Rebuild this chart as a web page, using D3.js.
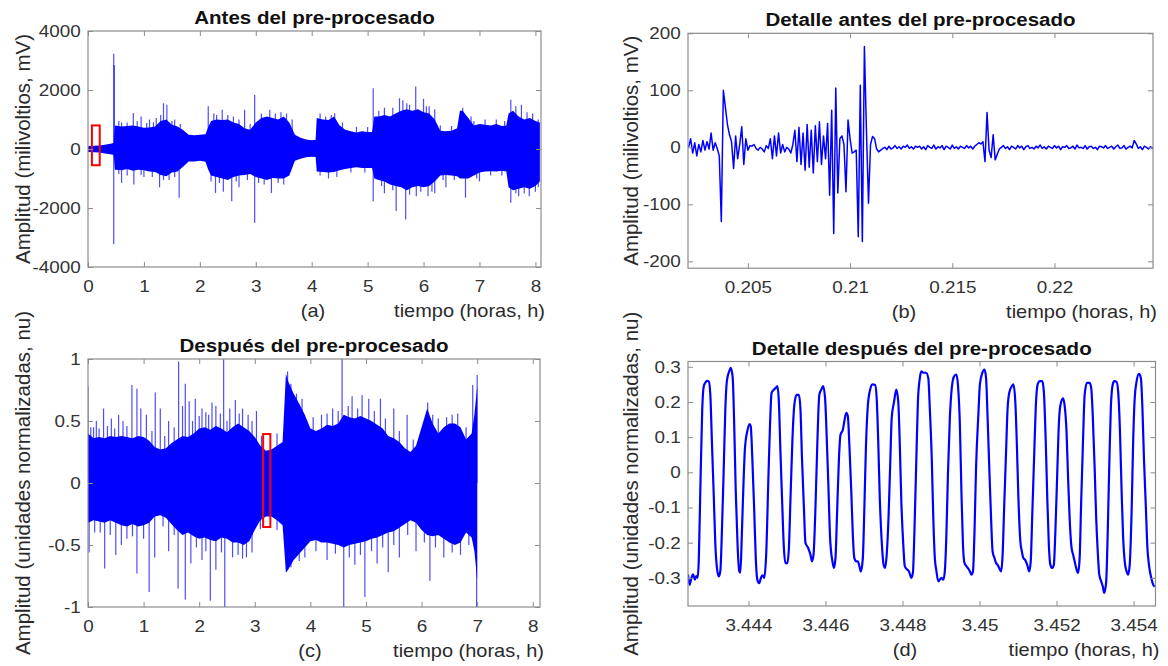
<!DOCTYPE html>
<html>
<head>
<meta charset="utf-8">
<title>Antes y después del pre-procesado</title>
<script src="https://d3js.org/d3.v7.min.js"></script>
<style>
  body { margin: 0; background: #fff; }
  svg text { font-family: "Liberation Sans", Arial, sans-serif; }
</style>
</head>
<body>
<div id="chart"></div>
<script>
// ---------- (a) raw signal, read as envelope + isolated spikes ----------
var aTime  = [0, 0.1, 0.2, 0.3, 0.4, 0.46, 0.48, 0.6, 0.7, 0.8, 0.9, 1.0, 1.1, 1.2, 1.3, 1.4, 1.5, 1.6, 1.7, 1.8, 1.9, 2.0, 2.1, 2.15,
              2.2, 2.3, 2.4, 2.5, 2.6, 2.7, 2.8, 2.9, 3.0, 3.1, 3.2, 3.3, 3.4, 3.5, 3.6, 3.7, 3.8, 3.9, 4.0, 4.07, 4.09,
              4.2, 4.3, 4.4, 4.5, 4.6, 4.7, 4.8, 4.9, 5.0, 5.08, 5.12, 5.2, 5.3, 5.4, 5.5, 5.6, 5.7, 5.8, 5.9, 6.0, 6.1,
              6.2, 6.3, 6.4, 6.5, 6.6, 6.65, 6.7, 6.8, 6.9, 7.0, 7.1, 7.2, 7.3, 7.4, 7.48, 7.52, 7.6, 7.7, 7.8, 7.9, 8.0, 8.08];
var aUpper = [100, 110, 120, 140, 180, 200, 800, 760, 780, 800, 760, 720, 730, 760, 950, 1000, 820, 760, 640, 480, 470, 480, 500, 750,
              950, 1000, 980, 1000, 900, 850, 700, 650, 900, 1050, 1100, 1050, 1000, 1100, 900, 480, 380, 320, 300, 310, 1050,
              1000, 980, 1100, 800, 650, 600, 560, 600, 580, 580, 1100, 1100, 1150, 1100, 1200, 1300, 1350, 1300, 1350, 1250, 1200,
              1000, 620, 600, 620, 700, 1300, 1300, 1050, 800, 850, 820, 800, 850, 780, 800, 1200, 1300, 1100, 1000, 1050, 950, 900];
var aLower = [-100, -110, -120, -150, -180, -200, -700, -720, -680, -740, -700, -720, -760, -780, -880, -920, -800, -760, -600, -420, -420, -400, -430, -700,
              -900, -950, -1000, -1050, -950, -900, -880, -850, -950, -1000, -1050, -980, -1000, -1000, -900, -400, -330, -280, -260, -270, -760,
              -780, -800, -780, -720, -680, -640, -620, -640, -640, -640, -1000, -1050, -1100, -1200, -1250, -1300, -1400, -1300, -1250, -1300, -1250,
              -1100, -900, -880, -900, -920, -1000, -1000, -1000, -900, -800, -760, -750, -760, -740, -760, -1300, -1400, -1350, -1300, -1350, -1250, -1100];
var aSpikes = [[0.46, 3230], [0.47, 2850], [0.6, 900], [0.81, 1220], [0.95, 1100], [1.1, 1000], [1.22, 1050], [1.35, 1550], [1.41, 1500],
               [1.55, 1000], [2.15, 1450], [2.25, 1200], [2.4, 1330], [2.6, 1100], [2.8, 1330], [2.98, 1840], [3.25, 1330], [3.45, 1250],
               [3.55, 1200], [4.25, 1100], [4.41, 1215], [5.1, 2060], [5.3, 1400], [5.57, 1720], [5.63, 1650], [5.75, 1500], [5.86, 2120],
               [6.0, 1700], [6.1, 1450], [6.2, 1350], [6.7, 1400], [6.85, 1100], [7.56, 1670], [7.65, 1450], [7.75, 1500], [7.95, 1200], [8.05, 1000],
               [0.55, 950], [0.7, 900], [0.88, 950], [1.05, 880], [1.17, 900], [1.3, 1150], [1.5, 950], [1.65, 850], [2.3, 1150], [2.5, 1150],
               [2.7, 1000], [2.9, 850], [3.1, 1200], [3.35, 1200], [3.65, 1000], [4.15, 1200], [4.35, 1150], [4.55, 900], [4.8, 750], [5.0, 750],
               [5.2, 1300], [5.45, 1400], [5.7, 1550], [6.05, 1450], [6.3, 800], [6.5, 780], [6.9, 950], [7.1, 1000], [7.3, 1000], [7.45, 950], [7.85, 1250],
               [0.46, -3230], [0.6, -1150], [0.82, -1200], [1.0, -950], [1.28, -1300], [1.45, -1050], [1.63, -1650], [2.28, -1490],
               [2.42, -1450], [2.57, -1770], [2.7, -1300], [2.98, -2500], [3.28, -1490], [3.5, -1200], [4.3, -1000], [5.1, -1770],
               [5.3, -1500], [5.51, -2100], [5.68, -2390], [5.87, -1600], [6.08, -1600], [6.2, -1500], [6.4, -1300], [6.75, -1650],
               [7.0, -1100], [7.56, -1825], [7.7, -1600], [7.89, -1600], [8.0, -1450],
               [0.55, -850], [0.7, -900], [0.95, -880], [1.15, -950], [1.35, -1050], [1.55, -950], [2.2, -1100], [2.35, -1150], [2.65, -1100],
               [2.85, -1050], [3.05, -1150], [3.15, -1200], [3.4, -1150], [4.15, -900], [4.45, -950], [4.7, -800], [4.95, -800], [5.25, -1250],
               [5.45, -1400], [5.75, -1550], [5.95, -1450], [6.15, -1450], [6.35, -1050], [6.55, -1050], [6.95, -1000], [7.2, -900], [7.4, -900],
               [7.65, -1500], [7.8, -1500], [8.05, -1300]];
var aBox = [0.07, 0.21, -550, 800];

// ---------- (b) detail of raw signal, sampled every 0.0001 h ----------
var bStart = 0.2021, bStep = 0.0001;
var bValues = [0, 15, -10, 8, -15, 5, -8, 12, -5, 10, -3, 25, -5, 8, -2, -15, -130, 100, 70, 40,
               22, 10, -37, 20, -20, 5, 36, -30, 15, -5, 3, 2, 5, -2, -5, 0, -3, -8, 3, -2,
               15, -20, 20, -15, 25, -10, 5, -8, 0, -3, -10, 5, 30, -25, 35, -30, 25, -40, 40, -35,
               30, -45, 38, -25, 45, -30, 20, -20, 42, -84, 65, -151, 104, -80, 15, 20, 5, -78, 48, 15,
               -10, -8, -5, -157, 109, -165, 177, 30, -98, 5, 19, 15, -3, -8, -5, -2, 0, -4, 2, -3,
               -1, 3, -2, 1, -3, 2, 0, 4, -2, 1, -3, 2, 0,
               2, -3, 1, -4, 3, 0, -2, 4, -3, 1, -1, 3, -4, 2, 0, -3, 4, -2, 1, -3, 2, 0, -2, 3, -1, 2, -3,
               2, 5, 8, 6, 10, -25, 61, -5, -18, 22, -22, -12, -3, 0,
               3, -2, 1, -4, 2, 0, -3, 3, -1, 2, -4, 1, 3, -2, 0, -3, 2, -1, 4, -2, 1, -3, 2, 0, -2, 3,
               -1, 2, -4, 1, 0, 3, -2, -1, 2, -3, 4, -1, 0, -2, 3, -3, 1, 2, -2, 0, -4, 2, 1, -1, 3, -2,
               0, 2, -3, 1, 4, -2, -1, 3, -3, 0, 2, -1, 12, 6, -2, 1, -4, 2, 0, -3, 1, -2, 3, -1];

// ---------- (c) pre-processed signal, envelope + spikes ----------
var cTime  = [0, 0.1, 0.2, 0.3, 0.4, 0.5, 0.6, 0.7, 0.8, 0.9, 1.0, 1.1, 1.2, 1.3, 1.4, 1.5, 1.6, 1.7, 1.8, 1.9,
              2.0, 2.1, 2.2, 2.3, 2.4, 2.5, 2.6, 2.7, 2.8, 2.9, 3.0, 3.1, 3.2, 3.3, 3.4, 3.5, 3.56,
              3.6, 3.7, 3.8, 3.9, 4.0, 4.1, 4.2, 4.3, 4.4, 4.5, 4.6, 4.7, 4.8, 4.9, 5.0, 5.1, 5.2, 5.3, 5.4,
              5.5, 5.6, 5.7, 5.8, 5.9, 6.0, 6.1, 6.2, 6.3, 6.4, 6.5, 6.6, 6.7, 6.8, 6.9, 6.95, 7.0];
var cUpper = [0.40, 0.36, 0.37, 0.36, 0.38, 0.37, 0.38, 0.37, 0.36, 0.38, 0.37, 0.34, 0.29, 0.27, 0.28, 0.32, 0.35, 0.38, 0.37, 0.40,
              0.44, 0.45, 0.43, 0.46, 0.44, 0.41, 0.45, 0.48, 0.45, 0.42, 0.37, 0.30, 0.26, 0.27, 0.30, 0.33, 0.88,
              0.82, 0.72, 0.64, 0.55, 0.44, 0.42, 0.44, 0.47, 0.46, 0.48, 0.55, 0.53, 0.52, 0.54, 0.52, 0.50, 0.47, 0.44, 0.38,
              0.36, 0.33, 0.28, 0.25, 0.30, 0.45, 0.60, 0.48, 0.40, 0.45, 0.48, 0.48, 0.45, 0.35, 0.40, 0.55, 0.78];
var cLower = [-0.32, -0.30, -0.31, -0.32, -0.30, -0.32, -0.34, -0.35, -0.33, -0.35, -0.34, -0.32, -0.27, -0.26, -0.28, -0.33, -0.38, -0.42, -0.40, -0.43,
              -0.45, -0.44, -0.46, -0.47, -0.44, -0.45, -0.48, -0.48, -0.50, -0.47, -0.38, -0.30, -0.27, -0.27, -0.30, -0.34, -0.72,
              -0.70, -0.62, -0.57, -0.52, -0.47, -0.46, -0.48, -0.48, -0.49, -0.50, -0.52, -0.50, -0.49, -0.48, -0.47, -0.45, -0.44, -0.42, -0.40,
              -0.39, -0.36, -0.33, -0.30, -0.32, -0.38, -0.42, -0.43, -0.42, -0.45, -0.48, -0.50, -0.48, -0.40, -0.44, -0.55, -0.78];
var cSpikes = [[0.0, 0.78], [0.05, 0.45], [0.15, 0.5], [0.28, 0.6], [0.42, 0.52], [0.55, 0.55], [0.63, 0.5], [0.79, 0.79], [0.88, 0.76],
               [0.95, 0.6], [1.05, 0.55], [1.21, 0.73], [1.3, 0.6], [1.45, 0.5], [1.63, 0.98], [1.7, 0.62], [1.75, 0.8], [1.82, 0.66],
               [1.93, 0.68], [2.05, 0.6], [2.12, 0.57], [2.23, 0.65], [2.3, 0.62], [2.44, 1.0], [2.55, 0.6], [2.65, 0.67], [2.78, 0.6],
               [2.88, 0.55], [3.03, 0.58], [3.59, 0.9], [3.75, 0.72], [4.2, 0.55], [4.4, 0.6], [4.57, 1.0], [4.75, 0.7], [4.93, 0.71],
               [5.05, 0.68], [5.26, 0.68], [5.5, 0.6], [5.74, 0.55], [6.11, 0.65], [6.3, 0.52], [6.55, 0.55], [6.92, 0.79], [7.0, 0.87],
               [0.1, 0.45], [0.2, 0.44], [0.35, 0.46], [0.48, 0.44], [0.7, 0.46], [1.15, 0.42], [1.38, 0.38], [1.55, 0.45], [1.88, 0.5],
               [2.0, 0.54], [2.17, 0.55], [2.38, 0.56], [2.5, 0.5], [2.72, 0.56], [2.95, 0.5], [3.12, 0.38], [3.4, 0.4], [3.65, 0.8],
               [3.85, 0.68], [4.05, 0.53], [4.3, 0.56], [4.5, 0.58], [4.68, 0.62], [4.85, 0.6], [5.15, 0.58], [5.35, 0.52], [5.6, 0.42],
               [5.85, 0.35], [6.2, 0.55], [6.45, 0.53], [6.65, 0.56], [6.8, 0.45],
               [0.02, -0.56], [0.3, -0.69], [0.5, -0.58], [0.6, -0.5], [0.88, -0.73], [1.1, -0.88], [1.2, -0.6], [1.45, -0.55],
               [1.62, -0.85], [1.75, -0.94], [1.85, -0.65], [2.05, -0.62], [2.2, -0.95], [2.3, -0.7], [2.46, -1.0], [2.6, -0.6],
               [2.78, -0.61], [2.95, -0.56], [3.57, -0.72], [3.9, -0.6], [4.3, -0.62], [4.6, -1.0], [4.8, -0.66], [4.98, -0.92],
               [5.2, -0.65], [5.4, -0.72], [5.6, -0.6], [5.9, -0.55], [6.15, -0.79], [6.4, -0.6], [6.7, -0.58], [6.99, -1.0],
               [0.12, -0.4], [0.22, -0.4], [0.4, -0.42], [0.7, -0.45], [0.8, -0.43], [1.0, -0.45], [1.35, -0.35], [1.55, -0.42],
               [1.95, -0.52], [2.12, -0.55], [2.4, -0.56], [2.7, -0.58], [2.85, -0.6], [3.1, -0.37], [3.4, -0.38], [3.65, -0.68],
               [3.8, -0.63], [4.1, -0.55], [4.45, -0.57], [4.7, -0.6], [4.9, -0.58], [5.1, -0.55], [5.3, -0.52], [5.5, -0.5],
               [5.75, -0.42], [6.05, -0.48], [6.25, -0.52], [6.55, -0.56], [6.85, -0.5]];
var cBox = [3.15, 3.28, -0.355, 0.395];

// ---------- (d) detail of pre-processed signal ----------
var dTime = [3.44243, 3.44247, 3.44252, 3.44256, 3.44261, 3.44264, 3.44268, 3.44271, 3.44275, 3.44280, 3.44284, 3.44288, 3.44293, 3.44297,
             3.44301, 3.44305, 3.44310, 3.44314, 3.44318, 3.44323, 3.44327, 3.44331, 3.44336, 3.44340, 3.44344, 3.44350, 3.44354, 3.44359,
             3.44363, 3.44367, 3.44372, 3.44376, 3.44379, 3.44383, 3.44387, 3.44391, 3.44397, 3.44403, 3.44406, 3.44410, 3.44415, 3.44419,
             3.44423, 3.44428, 3.44433, 3.44437, 3.44441, 3.44446, 3.44452, 3.44456, 3.44460, 3.44466, 3.44471, 3.44475, 3.44479, 3.44483,
             3.44488, 3.44492, 3.44496, 3.44501, 3.44505, 3.44509, 3.44514, 3.44519, 3.44525, 3.44531, 3.44535, 3.44539, 3.44544, 3.44548,
             3.44555, 3.44561, 3.44565, 3.44569, 3.44574, 3.44579, 3.44584, 3.44589, 3.44594, 3.44599, 3.44603, 3.44608, 3.44612, 3.44618,
             3.44622, 3.44626, 3.44630, 3.44635, 3.44639, 3.44645, 3.44649, 3.44654, 3.44658, 3.44662, 3.44667, 3.44671, 3.44675, 3.44680,
             3.44684, 3.44688, 3.44692, 3.44697, 3.44701, 3.44705, 3.44710, 3.44716, 3.44722, 3.44729, 3.44733, 3.44737, 3.44741, 3.44746,
             3.44751, 3.44755, 3.44759, 3.44764, 3.44768, 3.44772, 3.44778, 3.44784, 3.44789, 3.44793, 3.44797, 3.44802, 3.44806, 3.44811,
             3.44817, 3.44823, 3.44827, 3.44831, 3.44836, 3.44840, 3.44845, 3.44849, 3.44854, 3.44861, 3.44867, 3.44871, 3.44876, 3.44880,
             3.44884, 3.44888, 3.44893, 3.44897, 3.44901, 3.44906, 3.44910, 3.44914, 3.44918, 3.44923, 3.44928, 3.44934, 3.44940, 3.44944,
             3.44949, 3.44953, 3.44957, 3.44961, 3.44966, 3.44973, 3.44979, 3.44983, 3.44987, 3.44991, 3.44997, 3.45001, 3.45007, 3.45013,
             3.45017, 3.45021, 3.45026, 3.45030, 3.45034, 3.45039, 3.45043, 3.45047, 3.45051, 3.45056, 3.45060, 3.45064, 3.45069, 3.45073,
             3.45078, 3.45084, 3.45088, 3.45093, 3.45097, 3.45101, 3.45106, 3.45110, 3.45114, 3.45118, 3.45124, 3.45129, 3.45133, 3.45137,
             3.45142, 3.45146, 3.45151, 3.45157, 3.45163, 3.45167, 3.45172, 3.45176, 3.45180, 3.45184, 3.45189, 3.45193, 3.45197, 3.45202,
             3.45206, 3.45210, 3.45217, 3.45221, 3.45226, 3.45230, 3.45234, 3.45239, 3.45243, 3.45247, 3.45251, 3.45256, 3.45260, 3.45264,
             3.45269, 3.45273, 3.45279, 3.45286, 3.45290, 3.45294, 3.45299, 3.45303, 3.45307, 3.45311, 3.45316, 3.45320, 3.45324, 3.45329,
             3.45333, 3.45337, 3.45341, 3.45346, 3.45350, 3.45356, 3.45360, 3.45365, 3.45369, 3.45373, 3.45377, 3.45382, 3.45386, 3.45390,
             3.45395, 3.45399, 3.45403, 3.45408, 3.45414, 3.45419, 3.45423, 3.45427, 3.45432, 3.45436, 3.45440, 3.45446, 3.45451, 3.45455];
var dValues = [-0.29, -0.32, -0.30, -0.29, -0.305, -0.295, -0.30, -0.25, -0.05, 0.18, 0.245, 0.255, 0.26, 0.258,
               0.22, 0.09, -0.07, -0.205, -0.27, -0.296, -0.28, -0.17, 0.02, 0.18, 0.26, 0.287, 0.297, 0.27,
               0.135, -0.054, -0.215, -0.28, -0.285, -0.17, -0.035, 0.07, 0.117, 0.137, 0.13, 0.04, -0.11, -0.244,
               -0.305, -0.315, -0.298, -0.293, -0.30, -0.234, -0.007, 0.135, 0.226, 0.235, 0.24, 0.245, 0.20, 0.06,
               -0.10, -0.215, -0.258, -0.258, -0.215, -0.08, 0.088, 0.19, 0.22, 0.22, 0.18, 0.04, -0.10, -0.20,
               -0.215, -0.234, -0.253, -0.234, -0.10, 0.088, 0.22, 0.235, 0.245, 0.21, 0.107, -0.054, -0.187, -0.253,
               -0.272, -0.244, -0.12, 0.04, 0.107, 0.12, 0.145, 0.169, 0.16, 0.079, -0.054, -0.177, -0.244, -0.253,
               -0.253, -0.267, -0.282, -0.244, -0.10, 0.069, 0.19, 0.235, 0.25, 0.248, 0.21, 0.088, -0.073, -0.196,
               -0.263, -0.272, -0.234, -0.12, 0.02, 0.155, 0.20, 0.235, 0.20, 0.079, -0.083, -0.205, -0.267, -0.275,
               -0.282, -0.30, -0.286, -0.168, 0.04, 0.20, 0.268, 0.287, 0.283, 0.283, 0.268, 0.18, 0.04, -0.13,
               -0.244, -0.28, -0.31, -0.305, -0.30, -0.305, -0.28, -0.177, -0.007, 0.155, 0.24, 0.273, 0.278, 0.249,
               0.136, -0.054, -0.205, -0.258, -0.267, -0.277, -0.291, -0.282, -0.168, 0.012, 0.164, 0.25, 0.282, 0.292,
               0.268, 0.155, -0.007, -0.13, -0.225, -0.244, -0.258, -0.263, -0.272, -0.282, -0.234, -0.10, 0.06, 0.183,
               0.23, 0.245, 0.25, 0.20, 0.079, -0.073, -0.196, -0.225, -0.244, -0.248, -0.263, -0.282, -0.253, -0.12,
               0.05, 0.183, 0.25, 0.259, 0.259, 0.23, 0.088, -0.073, -0.205, -0.263, -0.272, -0.263, -0.168, 0.003,
               0.136, 0.19, 0.21, 0.19, 0.115, -0.016, -0.13, -0.215, -0.234, -0.253, -0.272, -0.286, -0.244, -0.083,
               0.098, 0.22, 0.254, 0.254, 0.24, 0.164, 0.012, -0.13, -0.225, -0.291, -0.31, -0.324, -0.343, -0.31,
               -0.168, 0.022, 0.183, 0.25, 0.259, 0.257, 0.23, 0.107, -0.054, -0.187, -0.253, -0.282, -0.291, -0.263,
               -0.11, 0.088, 0.21, 0.259, 0.28, 0.268, 0.183, 0.04, -0.10, -0.215, -0.263, -0.30, -0.32, -0.325];

// ---------- ticks and texts ----------
var hourTicks = [0, 1, 2, 3, 4, 5, 6, 7, 8];
var aYTicks = [-4000, -2000, 0, 2000, 4000];
var bXTicks = [0.205, 0.21, 0.215, 0.22];
var bYTicks = [-200, -100, 0, 100, 200];
var cYTicks = [-1, -0.5, 0, 0.5, 1];
var dXTicks = [3.444, 3.446, 3.448, 3.45, 3.452, 3.454];
var dYTicks = [-0.3, -0.2, -0.1, 0, 0.1, 0.2, 0.3];

var titles = ["Antes del pre-procesado", "Detalle antes del pre-procesado",
              "Después del pre-procesado", "Detalle después del pre-procesado"];
var yLabels = ["Amplitud (milivoltios, mV)", "Amplitud (unidades normalizadas, nu)"];
var xLabel = "tiempo (horas, h)";
var tags = ["(a)", "(b)", "(c)", "(d)"];

var BLUE = "#0000ff";
var STRETCH = "scale(1.11,1)";   // the figure's lettering is slightly wide
var w = 1168, h = 666;

var svg = d3.select("#chart").append("svg")
  .attr("width", w)
  .attr("height", h)
  .attr("xmlns", "http://www.w3.org/2000/svg");

function addText(x, y, str, size, anchor, extra) {
  return svg.append("text")
    .attr("transform", "translate(" + x + "," + y + ") " + (extra || STRETCH))
    .attr("text-anchor", anchor)
    .style("font-size", size + "px")
    .style("fill", "#2a2a2a")
    .text(str);
}

function drawPanel(p) {
  var x = d3.scaleLinear().domain(p.xDomain).range([p.left, p.right]);
  var y = d3.scaleLinear().domain(p.yDomain).range([p.bottom, p.top]);

  svg.append("clipPath").attr("id", "clip" + p.id)
    .append("rect")
    .attr("x", p.left).attr("y", p.top)
    .attr("width", p.right - p.left).attr("height", p.bottom - p.top);

  var plot = svg.append("g").attr("clip-path", "url(#clip" + p.id + ")");
  p.draw(plot, x, y);

  // axes, MATLAB style: ticks inside, on all four sides
  var axes = [
    [d3.axisBottom(x).tickValues(p.xTicks).tickFormat(String).tickPadding(13), "translate(0," + p.bottom + ")"],
    [d3.axisTop(x).tickValues(p.xTicks).tickFormat(""), "translate(0," + p.top + ")"],
    [d3.axisLeft(y).tickValues(p.yTicks).tickFormat(String).tickPadding(6.5), "translate(" + p.left + ",0)"],
    [d3.axisRight(y).tickValues(p.yTicks).tickFormat(""), "translate(" + p.right + ",0)"]
  ];
  axes.forEach(function(a) {
    var g = svg.append("g")
      .attr("transform", a[1])
      .call(a[0].tickSizeInner(-5).tickSizeOuter(0))
      .attr("font-family", null)
      .attr("font-size", null)
      .style("color", "#8c8c8c");
    g.select(".domain").remove();
    g.selectAll("text")
      .attr("transform", STRETCH)
      .style("font-size", "17px").style("fill", "#333");
  });

  svg.append("rect")
    .attr("x", p.left).attr("y", p.top)
    .attr("width", p.right - p.left).attr("height", p.bottom - p.top)
    .attr("fill", "none").attr("stroke", "#8c8c8c").attr("stroke-width", 1.2);

  addText((p.left + p.right) / 2, p.top - 7, p.title, 18.5, "middle")
    .style("font-weight", "bold").style("fill", "#111");
  addText(p.ylx, (p.top + p.bottom) / 2, p.ylabel, 20.5, "middle", "rotate(-90)");
  addText(p.tagX, p.bottom + 50, p.tag, 18, "middle");
  addText(p.right + 4, p.bottom + 50, xLabel, 18, "end");
}

// dense signal drawn as envelope area + spike lines + red selection box
function denseDraw(times, upper, lower, spikes, box) {
  return function(plot, x, y) {
    var area = d3.area()
      .x(function(d, i) { return x(times[i]); })
      .y0(function(d, i) { return y(lower[i]); })
      .y1(function(d, i) { return y(upper[i]); });
    plot.append("path").datum(times).attr("d", area).attr("fill", BLUE);

    plot.selectAll(".spike").data(spikes).enter().append("line")
      .attr("class", "spike")
      .attr("x1", function(d) { return x(d[0]); })
      .attr("x2", function(d) { return x(d[0]); })
      .attr("y1", y(0))
      .attr("y2", function(d) { return y(d[1]); })
      .attr("stroke", BLUE).attr("stroke-width", 1.2).attr("stroke-opacity", 0.7);

    plot.append("rect")
      .attr("x", x(box[0])).attr("y", y(box[3]))
      .attr("width", x(box[1]) - x(box[0])).attr("height", y(box[2]) - y(box[3]))
      .attr("fill", "none").attr("stroke", "#ff0000").attr("stroke-width", 2);
  };
}

function lineDraw(times, values, width, curve) {
  return function(plot, x, y) {
    var line = d3.line()
      .x(function(d, i) { return x(times[i]); })
      .y(function(d) { return y(d); })
      .curve(curve);
    plot.append("path").datum(values).attr("d", line)
      .attr("fill", "none").attr("stroke", BLUE).attr("stroke-width", width)
      .attr("stroke-linejoin", "round");
  };
}

var bTime = bValues.map(function(d, i) { return bStart + i * bStep; });

drawPanel({ id: "a", left: 88, right: 541, top: 31, bottom: 267,
  xDomain: [0, 8.1], yDomain: [-4000, 4000], xTicks: hourTicks, yTicks: aYTicks,
  title: titles[0], ylabel: yLabels[0], ylx: 30, tag: tags[0], tagX: 313,
  draw: denseDraw(aTime, aUpper, aLower, aSpikes, aBox) });

drawPanel({ id: "b", left: 688, right: 1153, top: 33.3, bottom: 268.2,
  xDomain: [0.20207, 0.22482], yDomain: [-212, 200], xTicks: bXTicks, yTicks: bYTicks,
  title: titles[1], ylabel: yLabels[0], ylx: 638, tag: tags[1], tagX: 904,
  draw: lineDraw(bTime, bValues, 1.5, d3.curveLinear) });

drawPanel({ id: "c", left: 88, right: 540, top: 359, bottom: 607,
  xDomain: [0, 8.13], yDomain: [-1, 1], xTicks: hourTicks, yTicks: cYTicks,
  title: titles[2], ylabel: yLabels[1], ylx: 30, tag: tags[2], tagX: 310,
  draw: denseDraw(cTime, cUpper, cLower, cSpikes, cBox) });

drawPanel({ id: "d", left: 688, right: 1155.5, top: 361.5, bottom: 606,
  xDomain: [3.44243, 3.45457], yDomain: [-0.38, 0.315], xTicks: dXTicks, yTicks: dYTicks,
  title: titles[3], ylabel: yLabels[1], ylx: 638, tag: tags[3], tagX: 905,
  draw: lineDraw(dTime, dValues, 2.2, d3.curveMonotoneX) });
</script>
</body>
</html>
